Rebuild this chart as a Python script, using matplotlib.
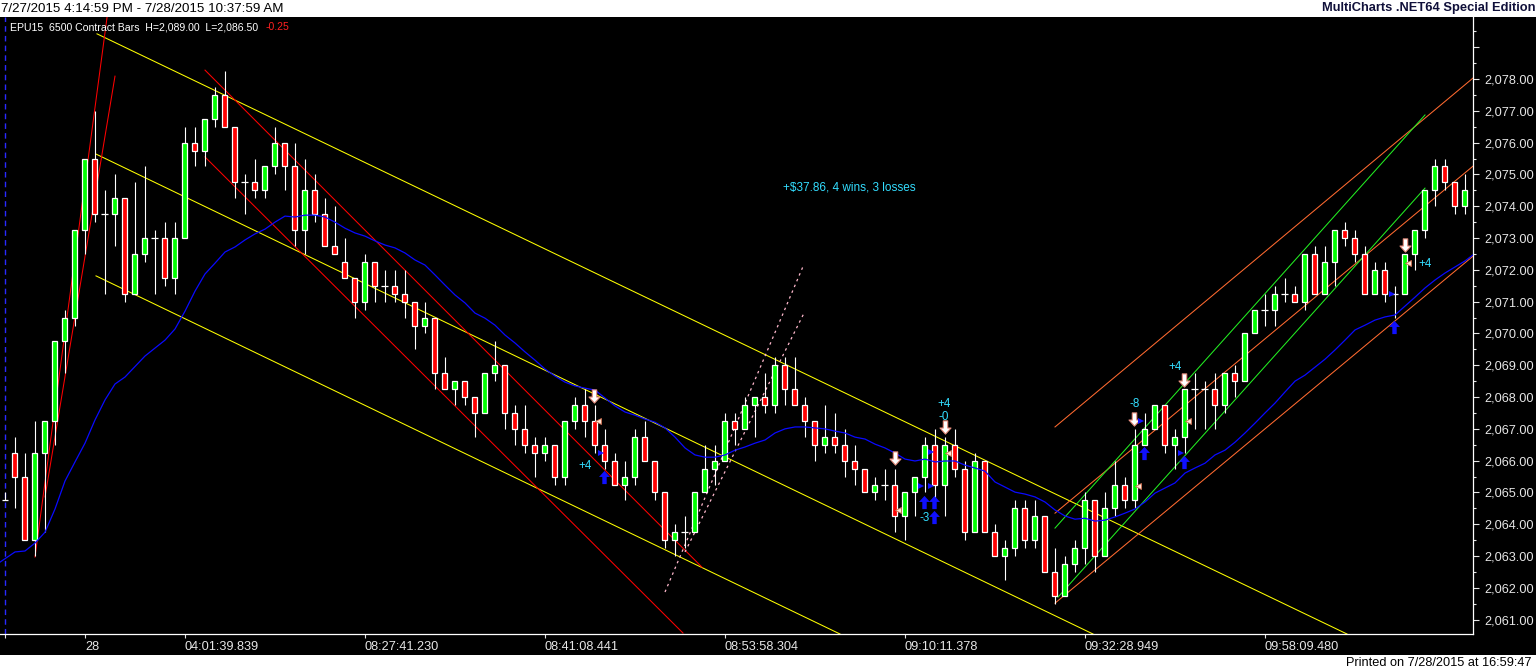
import numpy as np
import matplotlib
matplotlib.use("Agg")
import matplotlib.pyplot as plt
from matplotlib.path import Path
from matplotlib.patches import Rectangle
from matplotlib.ticker import FixedLocator, FuncFormatter

plt.rcParams['font.family'] = ['Liberation Sans', 'DejaVu Sans']

# === 1. Бары (OHLC) ===
opens = [2064.75, 2066.25, 2065.5, 2063.5, 2066.25, 2067.25, 2069.75, 2070.5, 2073.25, 2075.5,
         2073.75, 2073.75, 2074.25, 2071.25, 2072.5, 2073.0, 2073.0, 2071.75, 2073.0, 2076.0,
         2075.75, 2076.75, 2077.5, 2076.5, 2074.75, 2074.75, 2074.5, 2075.25, 2076.0, 2075.25,
         2073.25, 2074.5, 2073.75, 2072.75, 2072.25, 2071.75, 2071.0, 2072.25, 2071.5, 2071.5,
         2071.25, 2071.0, 2070.25, 2070.5, 2068.75, 2068.25, 2068.5, 2068.0, 2067.5, 2068.75,
         2069.0, 2067.5, 2067.0, 2066.5, 2066.25, 2066.5, 2065.5, 2067.25, 2067.75, 2067.25,
         2066.5, 2066.0, 2065.25, 2065.5, 2066.75, 2066.0, 2065.0, 2063.5, 2063.75, 2063.75,
         2065.0, 2065.75, 2066.0, 2067.25, 2067.0, 2067.75, 2068.0, 2067.75, 2069.0, 2068.25,
         2067.75, 2067.25, 2066.5, 2066.75, 2066.5, 2066.0, 2065.75, 2065.0, 2065.25, 2065.25,
         2064.25, 2065.0, 2065.5, 2066.5, 2065.25, 2066.5, 2065.75, 2063.75, 2066.0, 2063.75,
         2063.0, 2063.25, 2064.5, 2063.5, 2064.25, 2062.5, 2061.75, 2062.75, 2063.25, 2064.75,
         2063.0, 2064.5, 2065.25, 2064.75, 2066.5, 2067.0, 2067.75, 2066.5, 2066.75, 2068.25,
         2068.25, 2068.25, 2067.75, 2068.75, 2068.5, 2070.0, 2070.75, 2070.75, 2071.25, 2071.25,
         2071.0, 2072.5, 2071.25, 2072.25, 2073.25, 2073.0, 2072.5, 2071.25, 2072.0, 2071.25,
         2071.25, 2072.5, 2073.25, 2074.5, 2075.25, 2074.75, 2074.0]
highs = [2065.0, 2066.75, 2066.25, 2067.25, 2067.25, 2069.75, 2070.75, 2073.25, 2075.5, 2077.0,
         2074.5, 2075.0, 2074.25, 2074.75, 2075.25, 2073.25, 2073.5, 2073.5, 2076.5, 2076.5,
         2076.75, 2077.75, 2078.25, 2076.5, 2075.0, 2075.5, 2075.25, 2076.5, 2076.0, 2076.0,
         2075.5, 2075.0, 2074.25, 2074.0, 2073.0, 2071.75, 2072.5, 2072.25, 2072.0, 2072.0,
         2072.0, 2071.0, 2071.0, 2070.5, 2069.25, 2068.5, 2068.5, 2068.0, 2068.75, 2069.75,
         2069.0, 2067.75, 2067.75, 2066.75, 2066.75, 2066.5, 2067.25, 2068.0, 2068.25, 2067.75,
         2067.0, 2066.25, 2066.0, 2067.0, 2067.25, 2066.0, 2065.0, 2064.0, 2064.25, 2065.0,
         2066.5, 2066.5, 2067.5, 2067.5, 2068.0, 2068.0, 2068.75, 2069.25, 2069.25, 2069.25,
         2068.0, 2067.25, 2067.75, 2067.5, 2067.0, 2066.5, 2065.75, 2065.5, 2065.75, 2065.75,
         2065.0, 2065.5, 2066.75, 2067.0, 2066.75, 2067.0, 2066.0, 2066.25, 2066.0, 2064.0,
         2063.5, 2064.75, 2064.75, 2064.75, 2064.25, 2063.25, 2063.0, 2063.5, 2065.0, 2064.75,
         2065.0, 2066.0, 2065.5, 2067.0, 2067.5, 2067.75, 2067.75, 2067.0, 2068.25, 2068.75,
         2068.5, 2068.75, 2068.75, 2069.0, 2070.0, 2070.75, 2071.25, 2071.5, 2071.75, 2071.5,
         2072.5, 2072.75, 2072.75, 2073.25, 2073.5, 2073.25, 2072.75, 2072.25, 2072.25, 2071.5,
         2072.5, 2073.25, 2074.5, 2075.5, 2075.5, 2074.75, 2075.0]
lows = [2064.75, 2064.5, 2063.5, 2063.0, 2063.75, 2066.5, 2068.75, 2070.25, 2072.5, 2073.5,
        2071.25, 2072.75, 2071.0, 2071.25, 2072.25, 2071.25, 2071.5, 2071.25, 2073.0, 2075.25,
        2075.25, 2076.5, 2076.5, 2074.25, 2073.75, 2074.25, 2074.25, 2075.0, 2074.5, 2072.75,
        2072.5, 2073.5, 2072.75, 2072.5, 2071.75, 2070.5, 2070.75, 2071.0, 2071.0, 2071.0,
        2070.5, 2069.5, 2070.0, 2068.25, 2068.25, 2067.75, 2067.75, 2066.75, 2067.5, 2068.5,
        2067.0, 2066.5, 2066.25, 2065.5, 2066.0, 2065.25, 2065.25, 2067.0, 2066.75, 2066.25,
        2065.75, 2065.25, 2064.75, 2065.25, 2066.0, 2064.75, 2063.25, 2063.0, 2063.25, 2063.75,
        2065.0, 2065.25, 2066.0, 2066.5, 2067.0, 2066.75, 2067.5, 2067.5, 2067.75, 2067.75,
        2066.75, 2066.0, 2066.25, 2066.25, 2065.5, 2065.25, 2065.0, 2064.75, 2064.75, 2063.75,
        2063.5, 2064.25, 2065.0, 2064.75, 2064.25, 2065.5, 2063.5, 2063.75, 2063.75, 2063.0,
        2062.25, 2063.0, 2063.25, 2063.25, 2062.5, 2061.5, 2061.75, 2062.5, 2062.75, 2062.5,
        2063.0, 2064.25, 2064.5, 2064.5, 2066.5, 2067.0, 2066.25, 2065.75, 2066.25, 2067.0,
        2067.0, 2067.0, 2067.5, 2068.0, 2068.5, 2070.0, 2070.25, 2070.25, 2071.0, 2071.0,
        2070.75, 2071.25, 2071.25, 2071.5, 2072.75, 2072.25, 2071.25, 2071.25, 2071.0, 2070.5,
        2071.25, 2072.0, 2073.0, 2074.0, 2074.5, 2073.75, 2073.75]
closes = [2064.75, 2065.5, 2063.5, 2066.25, 2067.25, 2069.75, 2070.5, 2073.25, 2075.5, 2073.75,
          2073.75, 2074.25, 2071.25, 2072.5, 2073.0, 2073.0, 2071.75, 2073.0, 2076.0, 2075.75,
          2076.75, 2077.5, 2076.5, 2074.75, 2074.75, 2074.5, 2075.25, 2076.0, 2075.25, 2073.25,
          2074.5, 2073.75, 2072.75, 2072.5, 2071.75, 2071.0, 2072.25, 2071.5, 2071.5, 2071.25,
          2071.0, 2070.25, 2070.5, 2068.75, 2068.25, 2068.5, 2068.0, 2067.5, 2068.75, 2069.0,
          2067.5, 2067.0, 2066.5, 2066.25, 2066.5, 2065.5, 2067.25, 2067.75, 2067.25, 2066.5,
          2066.0, 2065.25, 2065.5, 2066.75, 2066.0, 2065.0, 2063.5, 2063.75, 2063.75, 2065.0,
          2065.75, 2066.0, 2067.25, 2067.0, 2067.75, 2068.0, 2067.75, 2069.0, 2068.25, 2067.75,
          2067.25, 2066.5, 2066.75, 2066.5, 2066.0, 2065.75, 2065.0, 2065.25, 2065.25, 2064.25,
          2065.0, 2065.5, 2066.5, 2065.25, 2066.5, 2065.75, 2063.75, 2066.0, 2063.75, 2063.0,
          2063.25, 2064.5, 2063.5, 2064.25, 2062.5, 2061.75, 2062.75, 2063.25, 2064.75, 2063.0,
          2064.5, 2065.25, 2064.75, 2066.5, 2067.0, 2067.75, 2066.5, 2066.75, 2068.25, 2068.25,
          2068.25, 2067.75, 2068.75, 2068.5, 2070.0, 2070.75, 2070.75, 2071.25, 2071.25, 2071.0,
          2072.5, 2071.25, 2072.25, 2073.25, 2073.0, 2072.5, 2071.25, 2072.0, 2071.25, 2071.25,
          2072.5, 2073.25, 2074.5, 2075.25, 2074.75, 2074.0, 2074.5]

# === 2. Скользящая средняя (синяя) ===
ma_idx = [-0.5] + list(range(1, 13)) + [14] + list(range(16, 147)) + [146.8]
ma_val = [2062.81,
          2063.13, 2063.16, 2063.41, 2063.75, 2064.48, 2065.36, 2065.96, 2066.55, 2067.28, 2067.91,
          2068.41, 2068.63,
          2069.29,
          2069.79, 2070.14, 2070.70, 2071.33, 2071.87, 2072.21, 2072.56, 2072.72, 2072.94, 2073.13,
          2073.28, 2073.50, 2073.69, 2073.66, 2073.72, 2073.72, 2073.66, 2073.50, 2073.31, 2073.16,
          2073.06, 2072.91, 2072.78, 2072.69, 2072.53, 2072.31, 2072.15, 2071.84, 2071.52, 2071.21,
          2070.96, 2070.64, 2070.48, 2070.26, 2069.95, 2069.70, 2069.42, 2069.16, 2068.88, 2068.66,
          2068.47, 2068.35, 2068.28, 2068.22, 2067.97, 2067.72, 2067.53, 2067.43, 2067.31, 2067.21,
          2067.03, 2066.74, 2066.40, 2066.18, 2066.11, 2066.11, 2066.18, 2066.33, 2066.43, 2066.55,
          2066.65, 2066.87, 2067.00, 2067.06, 2067.06, 2067.03, 2067.00, 2066.93, 2066.87, 2066.74,
          2066.68, 2066.52, 2066.40, 2066.24, 2066.05, 2065.99, 2066.05, 2065.96, 2065.99, 2065.99,
          2065.86, 2065.77, 2065.67, 2065.33, 2065.17, 2065.01, 2064.95, 2064.86, 2064.70, 2064.45,
          2064.26, 2064.16, 2064.19, 2064.10, 2064.13, 2064.23, 2064.35, 2064.48, 2064.70, 2064.98,
          2065.14, 2065.30, 2065.61, 2065.77, 2065.92, 2066.18, 2066.33, 2066.58, 2066.87, 2067.18,
          2067.50, 2067.81, 2068.16, 2068.50, 2068.69, 2068.94, 2069.19, 2069.48, 2069.79, 2070.11,
          2070.26, 2070.42, 2070.52, 2070.58, 2070.86, 2071.14, 2071.43, 2071.68, 2071.90, 2072.09,
          2072.28,
          2072.47]

# === 3. Трендовые линии (x0, p0, x1, p1) ===
yellow_lines = [(9.2, 2079.42, 134.2, 2060.55), (9.1, 2075.64, 108.8, 2060.55),
                (9.1, 2071.81, 83.5, 2060.55)]
red_lines = [(3.0, 2062.97, 10.4, 2080.4), (4.0, 2064.86, 11.0, 2078.09),
             (20.0, 2078.28, 69.7, 2062.65), (20.0, 2075.55, 67.8, 2060.58)]
orange_lines = [(105.0, 2067.06, 146.8, 2078.03), (105.0, 2064.35, 146.8, 2075.26),
                (105.0, 2061.52, 146.8, 2072.43)]
green_lines = [(105.0, 2063.88, 142.0, 2076.87), (105.3, 2061.71, 142.0, 2074.57)]
dotted_lines = [(66.0, 2061.87, 79.9, 2072.18), (68.0, 2063.13, 79.9, 2070.64)]

# === 4. Сделки ===
exit_idx = [58.93, 89.0, 94.0, 112.93, 117.93, 140.0]
exit_px = [2068.03, 2066.07, 2067.05, 2067.30, 2068.53, 2072.78]
entry_idx = [59.93, 91.93, 92.93, 92.93, 113.93, 117.93, 138.93]
entry_px = [2065.49, 2064.71, 2064.71, 2064.24, 2066.23, 2065.97, 2070.21]
rtri_idx = [59.63, 91.57, 92.57, 92.57, 113.6, 117.57, 138.67]
rtri_px = [2066.24, 2065.21, 2066.26, 2065.21, 2067.25, 2066.23, 2071.23]
ltri_idx = [59.3, 89.3, 94.3, 113.3, 118.3, 140.3]
ltri_px = [2067.25, 2064.45, 2066.24, 2065.2, 2067.25, 2072.21]
pl_text = ['+4', '-3', '+4', '-0', '-8', '+4', '+4']
pl_idx = [58.0, 92.0, 93.9, 93.9, 113.0, 117.0, 142.0]
pl_px = [2065.83, 2064.2, 2067.78, 2067.37, 2067.78, 2068.94, 2072.18]

# === 5. Оси ===
tick_idx = [0, 8, 18, 36, 54, 72, 90, 108, 126]
tick_lbl = ['', '28', '04:01:39.839', '08:27:41.230', '08:41:08.441', '08:53:58.304',
            '09:10:11.378', '09:32:28.949', '09:58:09.480']
price_ticks = list(range(2061, 2080))

W, H = 1536, 670
fig = plt.figure(figsize=(W / 100, H / 100), dpi=100, facecolor='black')
ax = fig.add_axes([0, 36 / H, 1473 / W, 617 / H])
ax.set_facecolor('black')
ax.set_xlim(-0.5, 146.8)
ax.set_ylim(2060.55, 2079.95)

idx = np.arange(len(opens))
o = np.array(opens); c = np.array(closes)
ax.vlines(idx, lows, highs, color='white', lw=0.8, zorder=3)
body = o != c
cols = np.where(c > o, '#00ff00', '#ff0000')
ax.bar(idx[body], np.abs(c - o)[body], bottom=np.minimum(o, c)[body], width=0.5,
       color=cols[body], edgecolor='white', linewidth=0.9, zorder=4)
ax.hlines(o[~body], idx[~body] - 0.35, idx[~body] + 0.35, color='white', lw=0.9, zorder=4)

ax.plot(ma_idx, ma_val, color='#0a0aff', lw=0.9, zorder=5)
ax.axvline(0, color='#2a2aff', lw=1.0, ls=(0, (4, 3)), zorder=2)

for lines, col in [(yellow_lines, '#ffff00'), (red_lines, '#ff0000'),
                   (orange_lines, '#ff6a30'), (green_lines, '#22ee22')]:
    for x0, y0, x1, y1 in lines:
        ax.plot([x0, x1], [y0, y1], color=col, lw=0.75, zorder=2)
for x0, y0, x1, y1 in dotted_lines:
    ax.plot([x0, x1], [y0, y1], color='#ffb8cc', lw=0.9, ls=(0, (2, 3)), zorder=2)

up_arrow = Path([(-0.5, 0.05), (0, 0.6), (0.5, 0.05), (0.2, 0.05), (0.2, -0.6),
                 (-0.2, -0.6), (-0.2, 0.05), (-0.5, 0.05)], closed=True)
down_arrow = Path([(x, -y) for x, y in up_arrow.vertices], closed=True)
ax.plot(entry_idx, entry_px, ls='none', marker=up_arrow, ms=9.5, color='#1010ff',
        markeredgewidth=0, zorder=7)
ax.plot(exit_idx, exit_px, ls='none', marker=down_arrow, ms=9.5, markerfacecolor='white',
        markeredgecolor='#e89080', markeredgewidth=0.8, zorder=7)
ax.plot(rtri_idx, rtri_px, ls='none', marker='>', ms=5, color='#1010ff',
        markeredgewidth=0, zorder=7)
ax.plot(ltri_idx, ltri_px, ls='none', marker='<', ms=5, markerfacecolor='#ffe4d4',
        markeredgecolor='#d07050', markeredgewidth=0.6, zorder=7)
for t, xi, yi in zip(pl_text, pl_idx, pl_px):
    ax.text(xi, yi, t, color='#33ddff', fontsize=8.4, ha='center', va='center', zorder=8)
ax.text(77.8, 2074.6, '+$37.86, 4 wins, 3 losses', color='#33ddff', fontsize=8.5,
        ha='left', va='center', zorder=8)

for s in ['top', 'left']:
    ax.spines[s].set_visible(False)
for s in ['right', 'bottom']:
    ax.spines[s].set_color('white')
    ax.spines[s].set_linewidth(0.9)

ax.yaxis.tick_right()
ax.yaxis.set_major_locator(FixedLocator(price_ticks))
ax.yaxis.set_major_formatter(FuncFormatter(lambda v, p: '' if v > 2078.5 else f'{v:,.2f}'))
ax.yaxis.set_minor_locator(FixedLocator([p + 0.5 for p in price_ticks]))
ax.tick_params(axis='y', which='major', colors='#e6e6e6', length=4, width=0.8, pad=4,
               labelsize=9.2)
ax.tick_params(axis='y', which='minor', colors='#e6e6e6', length=2.5, width=0.8)
ax.set_xticks(tick_idx)
ax.set_xticklabels(tick_lbl)
ax.tick_params(axis='x', colors='#e6e6e6', length=3, width=0.8, pad=2, labelsize=9.2)
for lab in ax.get_xticklabels():
    lab.set_horizontalalignment('left')

# === 6. Белые полосы сверху и снизу ===
fig.add_artist(Rectangle((0, 1 - 17 / H), 1, 17 / H, transform=fig.transFigure,
                         facecolor='white', edgecolor='none'))
fig.add_artist(Rectangle((0, 0), 1, 15 / H, transform=fig.transFigure,
                         facecolor='white', edgecolor='none'))
fig.text(1 / W, 1 - 8.5 / H, '7/27/2015 4:14:59 PM - 7/28/2015 10:37:59 AM', color='black',
         fontsize=9.6, ha='left', va='center')
fig.text(1535 / W, 1 - 8.5 / H, 'MultiCharts .NET64 Special Edition', color='#10103a',
         fontsize=9.3, fontweight='bold', ha='right', va='center')
fig.text(1532 / W, 7.5 / H, 'Printed on 7/28/2015 at 16:59:47', color='black',
         fontsize=9.2, ha='right', va='center')

t1 = fig.text(10 / W, 1 - 27 / H, 'EPU15  6500 Contract Bars  H=2,089.00  L=2,086.50',
              color='white', fontsize=7.6, ha='left', va='center')
fig.canvas.draw()
bb = t1.get_window_extent()
fig.text((bb.x1 + 7) / W, 1 - 27 / H, '-0.25', color='#ff2020', fontsize=7.6,
         ha='left', va='center')

fig.savefig('out.png', dpi=100, facecolor='black')
print('saved')
